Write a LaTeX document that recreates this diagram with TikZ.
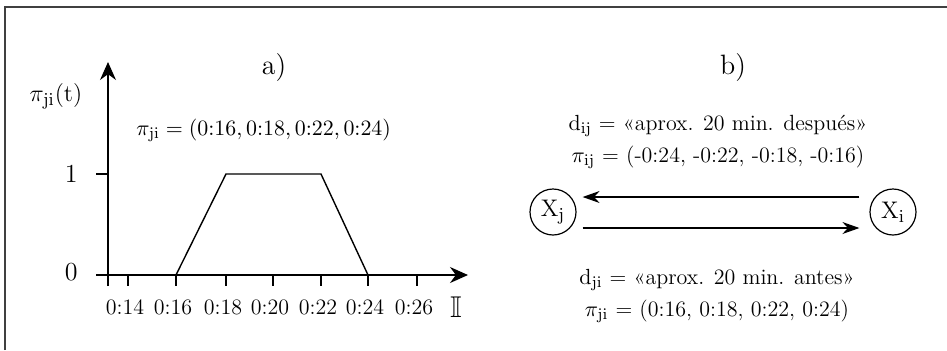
\documentclass[tikz,border=0pt]{standalone}
\usepackage{amsmath, amssymb}
\usetikzlibrary{positioning, arrows.meta, calc}

\tikzset{
  axis/.style={line width=0.7pt, -{Stealth[length=9pt, width=8pt]}},
  arr/.style={line width=0.6pt, -{Stealth[length=8.5pt, width=6pt]}},
  lbl/.style={font=\fontsize{11}{13}\selectfont, inner sep=1pt},
  big/.style={font=\fontsize{13}{15}\selectfont, inner sep=1pt},
  var/.style={draw, circle, line width=0.6pt, minimum size=23pt, inner sep=0pt,
              font=\fontsize{13}{15}\selectfont},
}

\begin{document}
\begin{tikzpicture}[x=0.5pt, y=-0.5pt]
            \useasboundingbox (0,0) rectangle (947,350);
            \draw[line width=0.6pt, black!75] (5,350) -- (5,7) -- (947,7);

            % a)
            \coordinate (O) at (108,275);
            \coordinate (Ybot) at (108,286);
            \coordinate (Ytop) at (108,62);
            \coordinate (Xbeg) at (96,275);
            \coordinate (Xend) at (468,275);
            \draw[axis] (Ybot) -- (Ytop);
            \draw[axis] (Xbeg) -- (Xend);

            \coordinate (Y1) at (108,174);
            \draw[line width=0.6pt] (Y1) -- ++(-12,0);
            \node[big, anchor=east] (one) at (80,174) {1};
            \node[big, anchor=east] (zero) at (80,272) {0};

            \foreach \x/\t [count=\i] in {128/0:14, 176/0:16, 226/0:18, 273/0:20, 321/0:22, 368/0:24, 417/0:26} {
                \coordinate (T\i) at (\x,275);
                \draw[line width=0.6pt] (T\i) -- ++(0,11);
                \node[lbl] (L\i) at (\x-3,307) {\t};
            }
            \node[font=\fontsize{15}{17}\selectfont] (I) at (456,307) {$\mathbb{I}$};

            \coordinate (P1) at (226,174);
            \coordinate (P2) at (321,174);
            \draw[line width=0.7pt] (T2) -- (P1) -- (P2) -- (T6);

            \node[font=\fontsize{14}{16}\selectfont] (a) at (274,68) {a)};
            \node[big] (pit) at (56,96) {$\pi_{\mathrm{ji}}(\mathrm{t})$};
            \node[lbl, anchor=west] (pia) at (134,130)
                {$\pi_{\mathrm{ji}} = (0{:}16, 0{:}18, 0{:}22, 0{:}24)$};

            % b)
            \node[font=\fontsize{14}{16}\selectfont] (b) at (733,68) {b)};
            \node[lbl] (dij) at (718,126) {$\mathrm{d_{ij}}$ = «aprox. 20 min. después»};
            \node[lbl] (pij) at (718,157) {$\pi_{\mathrm{ij}}$ = (-0:24, -0:22, -0:18, -0:16)};

            \node[var] (Xj) at (553,212) {$\mathrm{X_j}$};
            \node[var] (Xi) at (893,212) {$\mathrm{X_i}$};
            \draw[arr] ([xshift=-5pt, yshift=7.5pt]Xi.west) -- ([xshift=3pt, yshift=7.5pt]Xj.east);
            \draw[arr] ([xshift=3pt, yshift=-8pt]Xj.east) -- ([xshift=-5pt, yshift=-8pt]Xi.west);

            \node[lbl] (dji) at (717,280) {$\mathrm{d_{ji}}$ = «aprox. 20 min. antes»};
            \node[lbl] (pji) at (717,311) {$\pi_{\mathrm{ji}}$ = (0:16, 0:18, 0:22, 0:24)};
        \end{tikzpicture}
\end{document}
